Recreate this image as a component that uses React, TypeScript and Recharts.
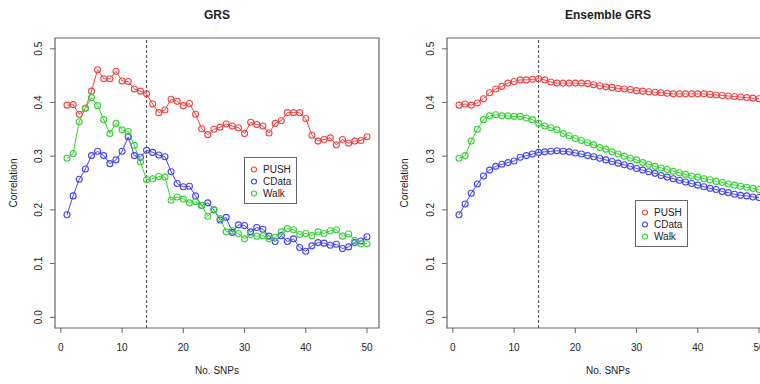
import React from 'react';
import { LineChart, Line, XAxis, YAxis, ReferenceLine, ReferenceArea, Legend } from 'recharts';

// number of SNPs on the x axis
const snps = [
  1, 2, 3, 4, 5, 6, 7, 8, 9, 10, 11, 12, 13, 14, 15, 16, 17, 18, 19, 20, 21, 22, 23, 24, 25,
  26, 27, 28, 29, 30, 31, 32, 33, 34, 35, 36, 37, 38, 39, 40, 41, 42, 43, 44, 45, 46, 47, 48, 49, 50,
];

// GRS panel
const pushGrs = [
  0.395, 0.396, 0.378, 0.389, 0.421, 0.461, 0.444, 0.444, 0.458, 0.44, 0.439, 0.425, 0.421, 0.416, 0.397,
  0.381, 0.386, 0.406, 0.402, 0.394, 0.398, 0.378, 0.351, 0.34, 0.35, 0.354, 0.36, 0.356, 0.353, 0.342,
  0.363, 0.359, 0.356, 0.343, 0.361, 0.366, 0.381, 0.381, 0.381, 0.37, 0.339, 0.328, 0.331, 0.334, 0.321,
  0.331, 0.324, 0.328, 0.329, 0.336,
];
const cdataGrs = [
  0.191, 0.226, 0.257, 0.276, 0.301, 0.309, 0.301, 0.286, 0.293, 0.309, 0.336, 0.301, 0.298, 0.311, 0.307,
  0.302, 0.299, 0.271, 0.249, 0.243, 0.244, 0.226, 0.208, 0.213, 0.2, 0.181, 0.186, 0.158, 0.172, 0.171,
  0.159, 0.167, 0.164, 0.151, 0.141, 0.152, 0.141, 0.146, 0.13, 0.123, 0.133, 0.139, 0.138, 0.134, 0.136,
  0.128, 0.131, 0.139, 0.142, 0.15,
];
const walkGrs = [
  0.296, 0.305, 0.364, 0.389, 0.409, 0.394, 0.368, 0.342, 0.361, 0.349, 0.346, 0.32, 0.289, 0.256, 0.258,
  0.262, 0.261, 0.218, 0.224, 0.22, 0.213, 0.215, 0.208, 0.188, 0.2, 0.184, 0.159, 0.161, 0.156, 0.146,
  0.154, 0.151, 0.152, 0.146, 0.149, 0.159, 0.165, 0.163, 0.154, 0.156, 0.152, 0.159, 0.156, 0.161, 0.163,
  0.151, 0.155, 0.143, 0.137, 0.137,
];

// Ensemble GRS panel
const pushEns = [
  0.395, 0.397, 0.395, 0.399, 0.407, 0.418, 0.425, 0.43, 0.436, 0.439, 0.442, 0.442, 0.443, 0.444, 0.442,
  0.438, 0.436, 0.436, 0.436, 0.436, 0.436, 0.435, 0.433, 0.431, 0.429, 0.428, 0.426, 0.425, 0.424, 0.422,
  0.421, 0.42, 0.419, 0.418, 0.417, 0.416, 0.416, 0.416, 0.416, 0.416, 0.416, 0.415, 0.414, 0.413, 0.412,
  0.411, 0.41, 0.409, 0.408, 0.407,
];
const cdataEns = [
  0.191, 0.211, 0.231, 0.248, 0.263, 0.274, 0.281, 0.285, 0.288, 0.291, 0.298, 0.301, 0.304, 0.307, 0.308,
  0.309, 0.31, 0.309, 0.308, 0.306, 0.304, 0.301, 0.299, 0.296, 0.293, 0.29, 0.287, 0.284, 0.281, 0.277,
  0.274, 0.271, 0.268, 0.264, 0.261, 0.258, 0.255, 0.252, 0.249, 0.246, 0.243, 0.24, 0.238, 0.234, 0.232,
  0.229, 0.227, 0.226, 0.224, 0.223,
];
const walkEns = [
  0.296, 0.301, 0.328, 0.35, 0.368, 0.375, 0.377, 0.375, 0.375, 0.374, 0.374, 0.371, 0.368, 0.361, 0.356,
  0.353, 0.349, 0.342, 0.338, 0.333, 0.329, 0.325, 0.321, 0.316, 0.313, 0.308, 0.304, 0.3, 0.296, 0.293,
  0.288, 0.285, 0.281, 0.278, 0.275, 0.272, 0.269, 0.266, 0.263, 0.261, 0.258, 0.256, 0.253, 0.251, 0.248,
  0.246, 0.244, 0.242, 0.24, 0.238,
];

const xTicks = [0, 10, 20, 30, 40, 50];
const yTicks = [0, 0.1, 0.2, 0.3, 0.4, 0.5];
const cutoff = 14;

const series = [
  { key: 'push', name: 'PUSH', color: '#f04444' },
  { key: 'cdata', name: 'CData', color: '#4444f0' },
  { key: 'walk', name: 'Walk', color: '#36d236' },
];

const FONT = '"Liberation Sans", Arial, sans-serif';
const TEXT = '#222';
const X_DOMAIN = [-0.96, 51.96];
const Y_DOMAIN = [-0.02, 0.52];

const buildRows = (push: number[], cdata: number[], walk: number[]) =>
  snps.map((n, i) => ({ n, push: push[i], cdata: cdata[i], walk: walk[i] }));

const XTick = ({ x, y, payload }: any) => (
  <text x={x} y={y} dy="0.71em" textAnchor="middle" fontSize={10} fontFamily={FONT} fill={TEXT}>
    {payload.value}
  </text>
);

const YTick = ({ x, y, payload }: any) => (
  <text
    x={x}
    y={y}
    textAnchor="middle"
    fontSize={10}
    fontFamily={FONT}
    fill={TEXT}
    transform={`rotate(-90, ${x}, ${y})`}
  >
    {Number(payload.value).toFixed(1)}
  </text>
);

const LegendBox = () => (
  <div
    style={{
      border: '1px solid #666',
      background: '#fff',
      padding: '5px 0 4px 5px',
      fontFamily: FONT,
      fontSize: 10,
      color: TEXT,
      width: 46,
      boxSizing: 'content-box',
    }}
  >
    {series.map(s => (
      <div key={s.key} style={{ display: 'flex', alignItems: 'center', height: 12 }}>
        <svg width={9} height={9} style={{ marginRight: 4 }}>
          <circle cx={4} cy={4.5} r={2.5} fill="none" stroke={s.color} strokeWidth={1.1} />
        </svg>
        <span>{s.name}</span>
      </div>
    ))}
  </div>
);

interface PanelProps {
  rows: any[];
  width: number;
  yAxisWidth: number;
  legendLeft: number;
  legendTop: number;
}

const Panel: React.FC<PanelProps> = ({ rows, width, yAxisWidth, legendLeft, legendTop }) => (
  <LineChart width={width} height={384} data={rows} margin={{ top: 38, right: 1, left: 0, bottom: 0 }}>
    <XAxis
      dataKey="n"
      type="number"
      domain={X_DOMAIN}
      ticks={xTicks}
      height={56}
      axisLine={false}
      tickLine={{ stroke: '#666' }}
      tickSize={5}
      tickMargin={11}
      tick={<XTick />}
      allowDataOverflow
    />
    <YAxis
      type="number"
      domain={Y_DOMAIN}
      ticks={yTicks}
      width={yAxisWidth}
      axisLine={false}
      tickLine={{ stroke: '#666' }}
      tickSize={5}
      tickMargin={8}
      tick={<YTick />}
      allowDataOverflow
    />
    <ReferenceArea
      x1={X_DOMAIN[0]}
      x2={X_DOMAIN[1]}
      y1={Y_DOMAIN[0]}
      y2={Y_DOMAIN[1]}
      fill="none"
      stroke="#666"
      strokeWidth={1.2}
      ifOverflow="visible"
    />
    <ReferenceLine x={cutoff} stroke="#444" strokeDasharray="3 2" />
    {series.map(s => (
      <Line
        key={s.key}
        dataKey={s.key}
        name={s.name}
        type="linear"
        stroke={s.color}
        strokeWidth={1}
        dot={{ r: 3, fill: 'none', stroke: s.color, strokeWidth: 1.1 }}
        activeDot={false}
        isAnimationActive={false}
      />
    ))}
    <Legend
      layout="vertical"
      align="center"
      verticalAlign="middle"
      content={<LegendBox />}
      wrapperStyle={{ left: legendLeft, top: legendTop, width: 53, height: 48 }}
    />
  </LineChart>
);

const label = (text: string, cx: number, cy: number, size: number, bold = false, rotate = false) => (
  <div
    style={{
      position: 'absolute',
      left: cx - 100,
      top: cy - size / 2,
      width: 200,
      height: size,
      lineHeight: `${size}px`,
      textAlign: 'center',
      fontFamily: FONT,
      fontSize: size,
      fontWeight: bold ? 'bold' : 'normal',
      color: TEXT,
      transform: rotate ? 'rotate(-90deg)' : undefined,
      whiteSpace: 'nowrap',
    }}
  >
    {text}
  </div>
);

const App: React.FC = () => {
  const grsRows = buildRows(pushGrs, cdataGrs, walkGrs);
  const ensRows = buildRows(pushEns, cdataEns, walkEns);

  return (
    <div
      style={{
        position: 'absolute',
        left: 0,
        top: 0,
        width: 760,
        height: 384,
        overflow: 'hidden',
        background: '#fff',
      }}
    >
      <div style={{ position: 'absolute', left: 0, top: 0 }}>
        <Panel rows={grsRows} width={380} yAxisWidth={55} legendLeft={244} legendTop={157} />
      </div>
      <div style={{ position: 'absolute', left: 380, top: 0 }}>
        <Panel rows={ensRows} width={392} yAxisWidth={67} legendLeft={255} legendTop={200} />
      </div>
      {label('GRS', 217, 15, 12, true)}
      {label('Ensemble GRS', 608, 15, 12, true)}
      {label('No. SNPs', 217, 371, 10)}
      {label('No. SNPs', 608, 371, 10)}
      {label('Correlation', 14, 183, 10, false, true)}
      {label('Correlation', 405, 183, 10, false, true)}
    </div>
  );
};

export default App;
